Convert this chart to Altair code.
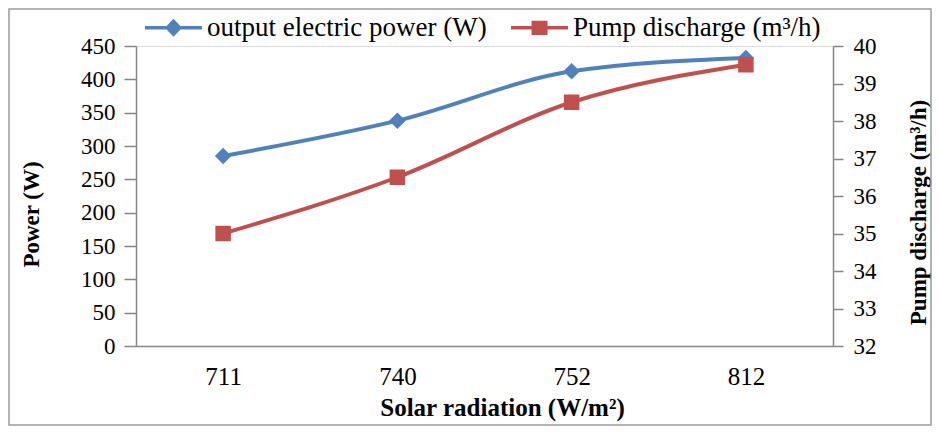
import altair as alt
import pandas as pd

categories = ["711", "740", "752", "812"]
power = [285, 338, 412, 432]
discharge = [35.0, 36.5, 38.5, 39.5]
power_ticks = [0, 50, 100, 150, 200, 250, 300, 350, 400, 450]
discharge_ticks = [32, 33, 34, 35, 36, 37, 38, 39, 40]
series_names = ["output electric power (W)", "Pump discharge (m³/h)"]
colors = ["#4F81BD", "#C0504D"]

FONT = "Liberation Serif"
GRAY = "#868686"

df = pd.DataFrame({"radiation": categories, "power": power, "discharge": discharge})
legend_df = pd.DataFrame({"series": series_names,
                          "radiation": [categories[0]] * 2,
                          "power": [power[0]] * 2})

W, H = 697, 300
PAD = {"left": 128, "top": 38, "right": 99, "bottom": 80}

# legend symbols: a line with a marker in the middle (unit coords, scaled by sqrt(size)/2)
legend_paths = [
    "M-1,-0.065L1,-0.065L1,0.065L-1,0.065Z M0,-0.32L0.3,0L0,0.32L-0.3,0Z",
    "M-1,-0.065L1,-0.065L1,0.065L-1,0.065Z M-0.28,-0.25L0.28,-0.25L0.28,0.25L-0.28,0.25Z",
]

common_axis = dict(labelFont=FONT, titleFont=FONT, labelColor="black", titleColor="black",
                   domainColor=GRAY, tickColor=GRAY, domainWidth=1.5, tickWidth=1.5, grid=False)

xenc = alt.X(
    "radiation:N", sort=categories,
    scale=alt.Scale(type="point", padding=0.5),
    axis=alt.Axis(title="Solar radiation (W/m²)", labelAngle=0, ticks=False,
                  labelPadding=18, labelFontSize=25, titleFontSize=25,
                  titleFontWeight="bold", titleX=366, titleY=61,
                  titleBaseline="middle", titleAlign="center", **common_axis),
)

yl = alt.Y(
    "power:Q", scale=alt.Scale(domain=[0, 450], nice=False),
    axis=alt.Axis(title="Power (W)", values=power_ticks, tickSize=12, labelPadding=9,
                  labelFontSize=23, titleFontSize=23, titleFontWeight="bold",
                  titleX=-105, titleY=168, titleAngle=270, titleAlign="center",
                  titleBaseline="middle", orient="left", **common_axis),
)

yr = alt.Y(
    "discharge:Q", scale=alt.Scale(domain=[32, 40], nice=False, zero=False),
    axis=alt.Axis(title="Pump discharge (m³/h)", values=discharge_ticks, tickSize=10,
                  labelPadding=10, labelFontSize=23, titleFontSize=23,
                  titleFontWeight="bold", titleX=85, titleY=166, titleAngle=270,
                  titleAlign="center", titleBaseline="middle", orient="right", **common_axis),
)

base = alt.Chart(df)

blue_line = base.mark_line(interpolate="monotone", strokeWidth=4, color=colors[0]).encode(x=xenc, y=yl)
blue_pts = base.mark_point(shape="diamond", filled=True, size=270, opacity=1, color=colors[0]).encode(x=xenc, y=yl)

leg = alt.Legend(title=None, orient="none", legendX=9, legendY=-47, direction="horizontal",
                 labelFont=FONT, labelFontSize=27, labelColor="black", labelLimit=0,
                 symbolSize=3249, symbolStrokeWidth=0, symbolOpacity=1, labelOffset=5,
                 columnPadding=24, padding=0)

legend_layer = alt.Chart(legend_df).mark_point(filled=True, opacity=0).encode(
    x=xenc, y=yl,
    color=alt.Color("series:N", scale=alt.Scale(domain=series_names, range=colors), legend=leg),
    shape=alt.Shape("series:N", scale=alt.Scale(domain=series_names, range=legend_paths), legend=leg),
)

left = alt.layer(blue_line, blue_pts, legend_layer)

red_line = base.mark_line(interpolate="monotone", strokeWidth=4, color=colors[1]).encode(x=xenc, y=yr)
red_pts = base.mark_point(shape="square", filled=True, size=240, opacity=1, color=colors[1]).encode(x=xenc, y=yr)
right = alt.layer(red_line, red_pts)

border = alt.Chart(pd.DataFrame({"a": [0]})).mark_rect(
    fillOpacity=0, stroke="#9a9a9a", strokeWidth=1.5
).encode(
    x=alt.value(-PAD["left"] + 1),
    x2=alt.value(W + PAD["right"] - 1),
    y=alt.value(-PAD["top"] + 1),
    y2=alt.value(H + PAD["bottom"] - 1),
)

chart = alt.layer(left, right, border).resolve_scale(y="independent").properties(
    width=W, height=H,
    autosize=alt.AutoSizeParams(type="none"),
    padding=PAD,
).configure_view(strokeWidth=0).configure_axis(
    domainColor=GRAY, tickColor=GRAY, domainWidth=1.5, tickWidth=1.5,
    labelColor="black", titleColor="black", labelFont=FONT, titleFont=FONT, grid=False,
).configure_text(font=FONT).configure(font=FONT)

chart.save("out.html", embed_options={"renderer": "svg", "actions": False})
